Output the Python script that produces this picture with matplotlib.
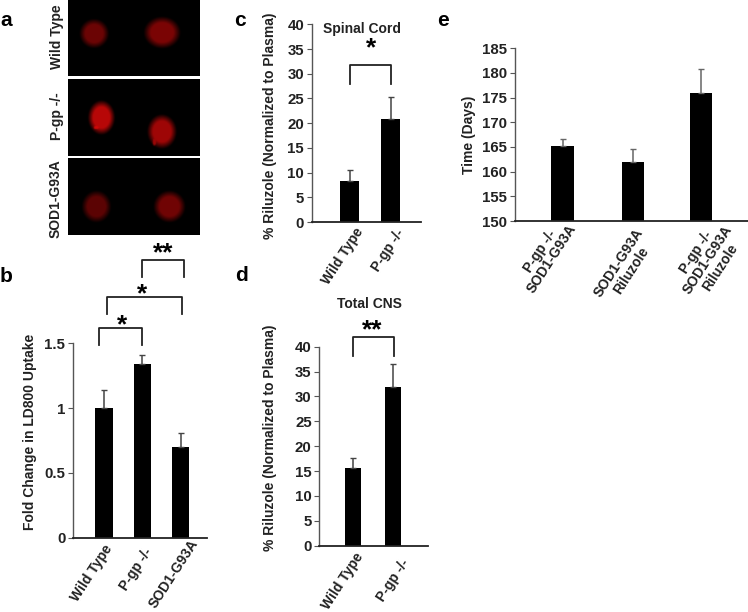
""" Five panel figure: LD800 uptake images, uptake bars, riluzole levels and survival """
import numpy as np
import matplotlib
matplotlib.use('Agg')
import matplotlib.pyplot as plt
from matplotlib.lines import Line2D

W, H = 748, 612

plt.rcParams['font.family'] = ['Liberation Sans', 'DejaVu Sans']
plt.rcParams['font.weight'] = 'bold'

groups_b = ['Wild Type', 'P-gp -/-', 'SOD1-G93A']
uptake = [1.0, 1.34, 0.70]
uptake_err = [0.14, 0.07, 0.11]

groups_cd = ['Wild Type', 'P-gp -/-']
spinal = [8.3, 20.9]
spinal_err = [2.2, 4.3]
total_cns = [15.7, 32.0]
total_cns_err = [2.0, 4.6]

groups_e = ['P-gp -/-\nSOD1-G93A', 'SOD1-G93A\nRiluzole', 'P-gp -/-\nSOD1-G93A\nRiluzole']
days = [165.2, 162.0, 176.0]
days_err = [1.4, 2.5, 4.8]

TEXT = '#222222'
LABEL_SIZE = 10

fig = plt.figure(figsize=(W / 100, H / 100), dpi=100)


def px_axes(left, top, right, bottom):
    # axes box given in picture pixels
    return fig.add_axes([left / W, 1 - bottom / H, (right - left) / W, (bottom - top) / H])


def label(x, y, s, **kw):
    fig.text(x / W, 1 - y / H, s, ha='center', va='center', **kw)


def bracket(x0, x1, top, bottom, stars, star_x, star_y):
    fig.add_artist(Line2D([x0 / W, x0 / W, x1 / W, x1 / W],
                          [1 - bottom / H, 1 - top / H, 1 - top / H, 1 - bottom / H],
                          color=TEXT, lw=1.3))
    label(star_x, star_y, stars, fontsize=19)


def bar_panel(box, xs, values, errs, names, name_pos, ylim, yticks, yticklabels, ylabel, ylabel_xy, width,
              err_color):
    ax = px_axes(*box)
    ax.bar(xs, values, width=width, color='black')
    ax.errorbar(xs, values, yerr=[np.zeros(len(errs)), errs], fmt='none', ecolor=err_color,
                elinewidth=1.1, capsize=2.5, capthick=1)
    ax.set_xlim(box[0], box[2])
    ax.set_ylim(*ylim)
    ax.set_yticks(yticks)
    ax.set_yticklabels(yticklabels, fontsize=10.8, color=TEXT)
    ax.set_xticks(xs)
    ax.set_xticklabels([])
    # slanted names sit at their own spot under the bars
    for name, (x, y) in zip(names, name_pos):
        label(x, y, name, fontsize=LABEL_SIZE, rotation=57, color=TEXT, multialignment='center',
              linespacing=1.05)
    ax.tick_params(axis='x', length=0, pad=5)
    ax.tick_params(axis='y', length=3.5, width=0.8, color='#555555', pad=2)
    for side in ['top', 'right']:
        ax.spines[side].set_visible(False)
    ax.spines['left'].set_color('#555555')
    ax.spines['left'].set_linewidth(1)
    ax.spines['bottom'].set_color(TEXT)
    ax.spines['bottom'].set_linewidth(1.3)
    label(ylabel_xy[0], ylabel_xy[1], ylabel, rotation=90, fontsize=LABEL_SIZE, color=TEXT)
    return ax


# panel a, three micrographs of red spots (x, y, rx, ry, brightness in picture pixels)
micro_rows = [
    (0, 76, [(92.7, 33, 12, 12, 0.42), (160.7, 32, 15, 13, 0.48)]),
    (79, 156, [(100, 117, 11, 14, 0.72), (160.5, 131, 12, 14, 0.62),
               (95, 127, 3, 2, 0.8), (153, 141, 2, 4, 0.6)]),
    (158, 235, [(95, 206, 12, 13, 0.36), (168, 206, 13, 13, 0.44)]),
]
for top, bottom, spots in micro_rows:
    ax = px_axes(67.5, top, 199, bottom)
    yy, xx = np.mgrid[top:bottom, 67:199]
    red = np.zeros(xx.shape)
    for x, y, rx, ry, level in spots:
        d = np.hypot((xx - x) / rx, (yy - y) / ry)
        red = np.maximum(red, level * np.clip(1.25 - d, 0, 0.5) / 0.5)
    img = np.dstack([red, 0.04 * red, 0.04 * red])
    ax.imshow(img, aspect='auto', interpolation='bicubic')
    ax.axis('off')

label(57, 37, 'Wild Type', rotation=90, fontsize=LABEL_SIZE, color=TEXT)
label(57, 116, 'P-gp -/-', rotation=90, fontsize=LABEL_SIZE, color=TEXT)
label(56, 199, 'SOD1-G93A', rotation=90, fontsize=LABEL_SIZE, color=TEXT)

# panel b
bar_panel((73, 343.3, 206.7, 537.7), [104, 142.3, 180.5], uptake, uptake_err, groups_b,
          [(91.5, 573), (136, 569), (174, 574)],
          (0, 1.5), [0, 0.5, 1, 1.5], ['0', '0.5', '1', '1.5'],
          'Fold Change in LD800 Uptake', (30, 432), 17.4, '#444444')
bracket(141.7, 183.7, 260, 276.7, '**', 163.5, 253)
bracket(107.3, 182, 297.3, 314, '*', 142, 294)
bracket(99.3, 142.3, 328.3, 345, '*', 122, 325)

# panel c
yt = list(range(0, 45, 5))
bar_panel((311.7, 24.3, 421, 222), [349.7, 390.7], spinal, spinal_err, groups_cd,
          [(342.5, 256), (388.5, 250)],
          (0, 40), yt, [str(v) for v in yt],
          '% Riluzole (Normalized to Plasma)', (270, 126), 18.8, '#444444')
label(361.7, 29.5, 'Spinal Cord', fontsize=LABEL_SIZE, color=TEXT)
bracket(350, 390.7, 65, 84, '*', 370.7, 48)

# panel d
bar_panel((319.3, 346.7, 427.7, 545.7), [352.8, 393], total_cns, total_cns_err, groups_cd,
          [(342.5, 581), (393, 580)],
          (0, 40), yt, [str(v) for v in yt],
          '% Riluzole (Normalized to Plasma)', (270, 438), 16.5, '#444444')
label(369, 303.5, 'Total CNS', fontsize=LABEL_SIZE, color=TEXT)
bracket(353.3, 394.3, 336.7, 355.7, '**', 372, 330)

# panel e
yt_e = list(range(150, 190, 5))
bar_panel((515, 48.3, 748, 221), [562.5, 633, 701], days, days_err, groups_e,
          [(546, 255), (625, 267), (708, 260)],
          (150, 185), yt_e, [str(v) for v in yt_e],
          'Time (Days)', (469, 135), 22.3, '#666666')

for x, y, s in [(6, 20, 'a'), (6, 277, 'b'), (240, 20, 'c'), (241, 276, 'd'), (443, 20, 'e')]:
    label(x, y, s, fontsize=15, color='black')

fig.savefig('out.png', dpi=100)
